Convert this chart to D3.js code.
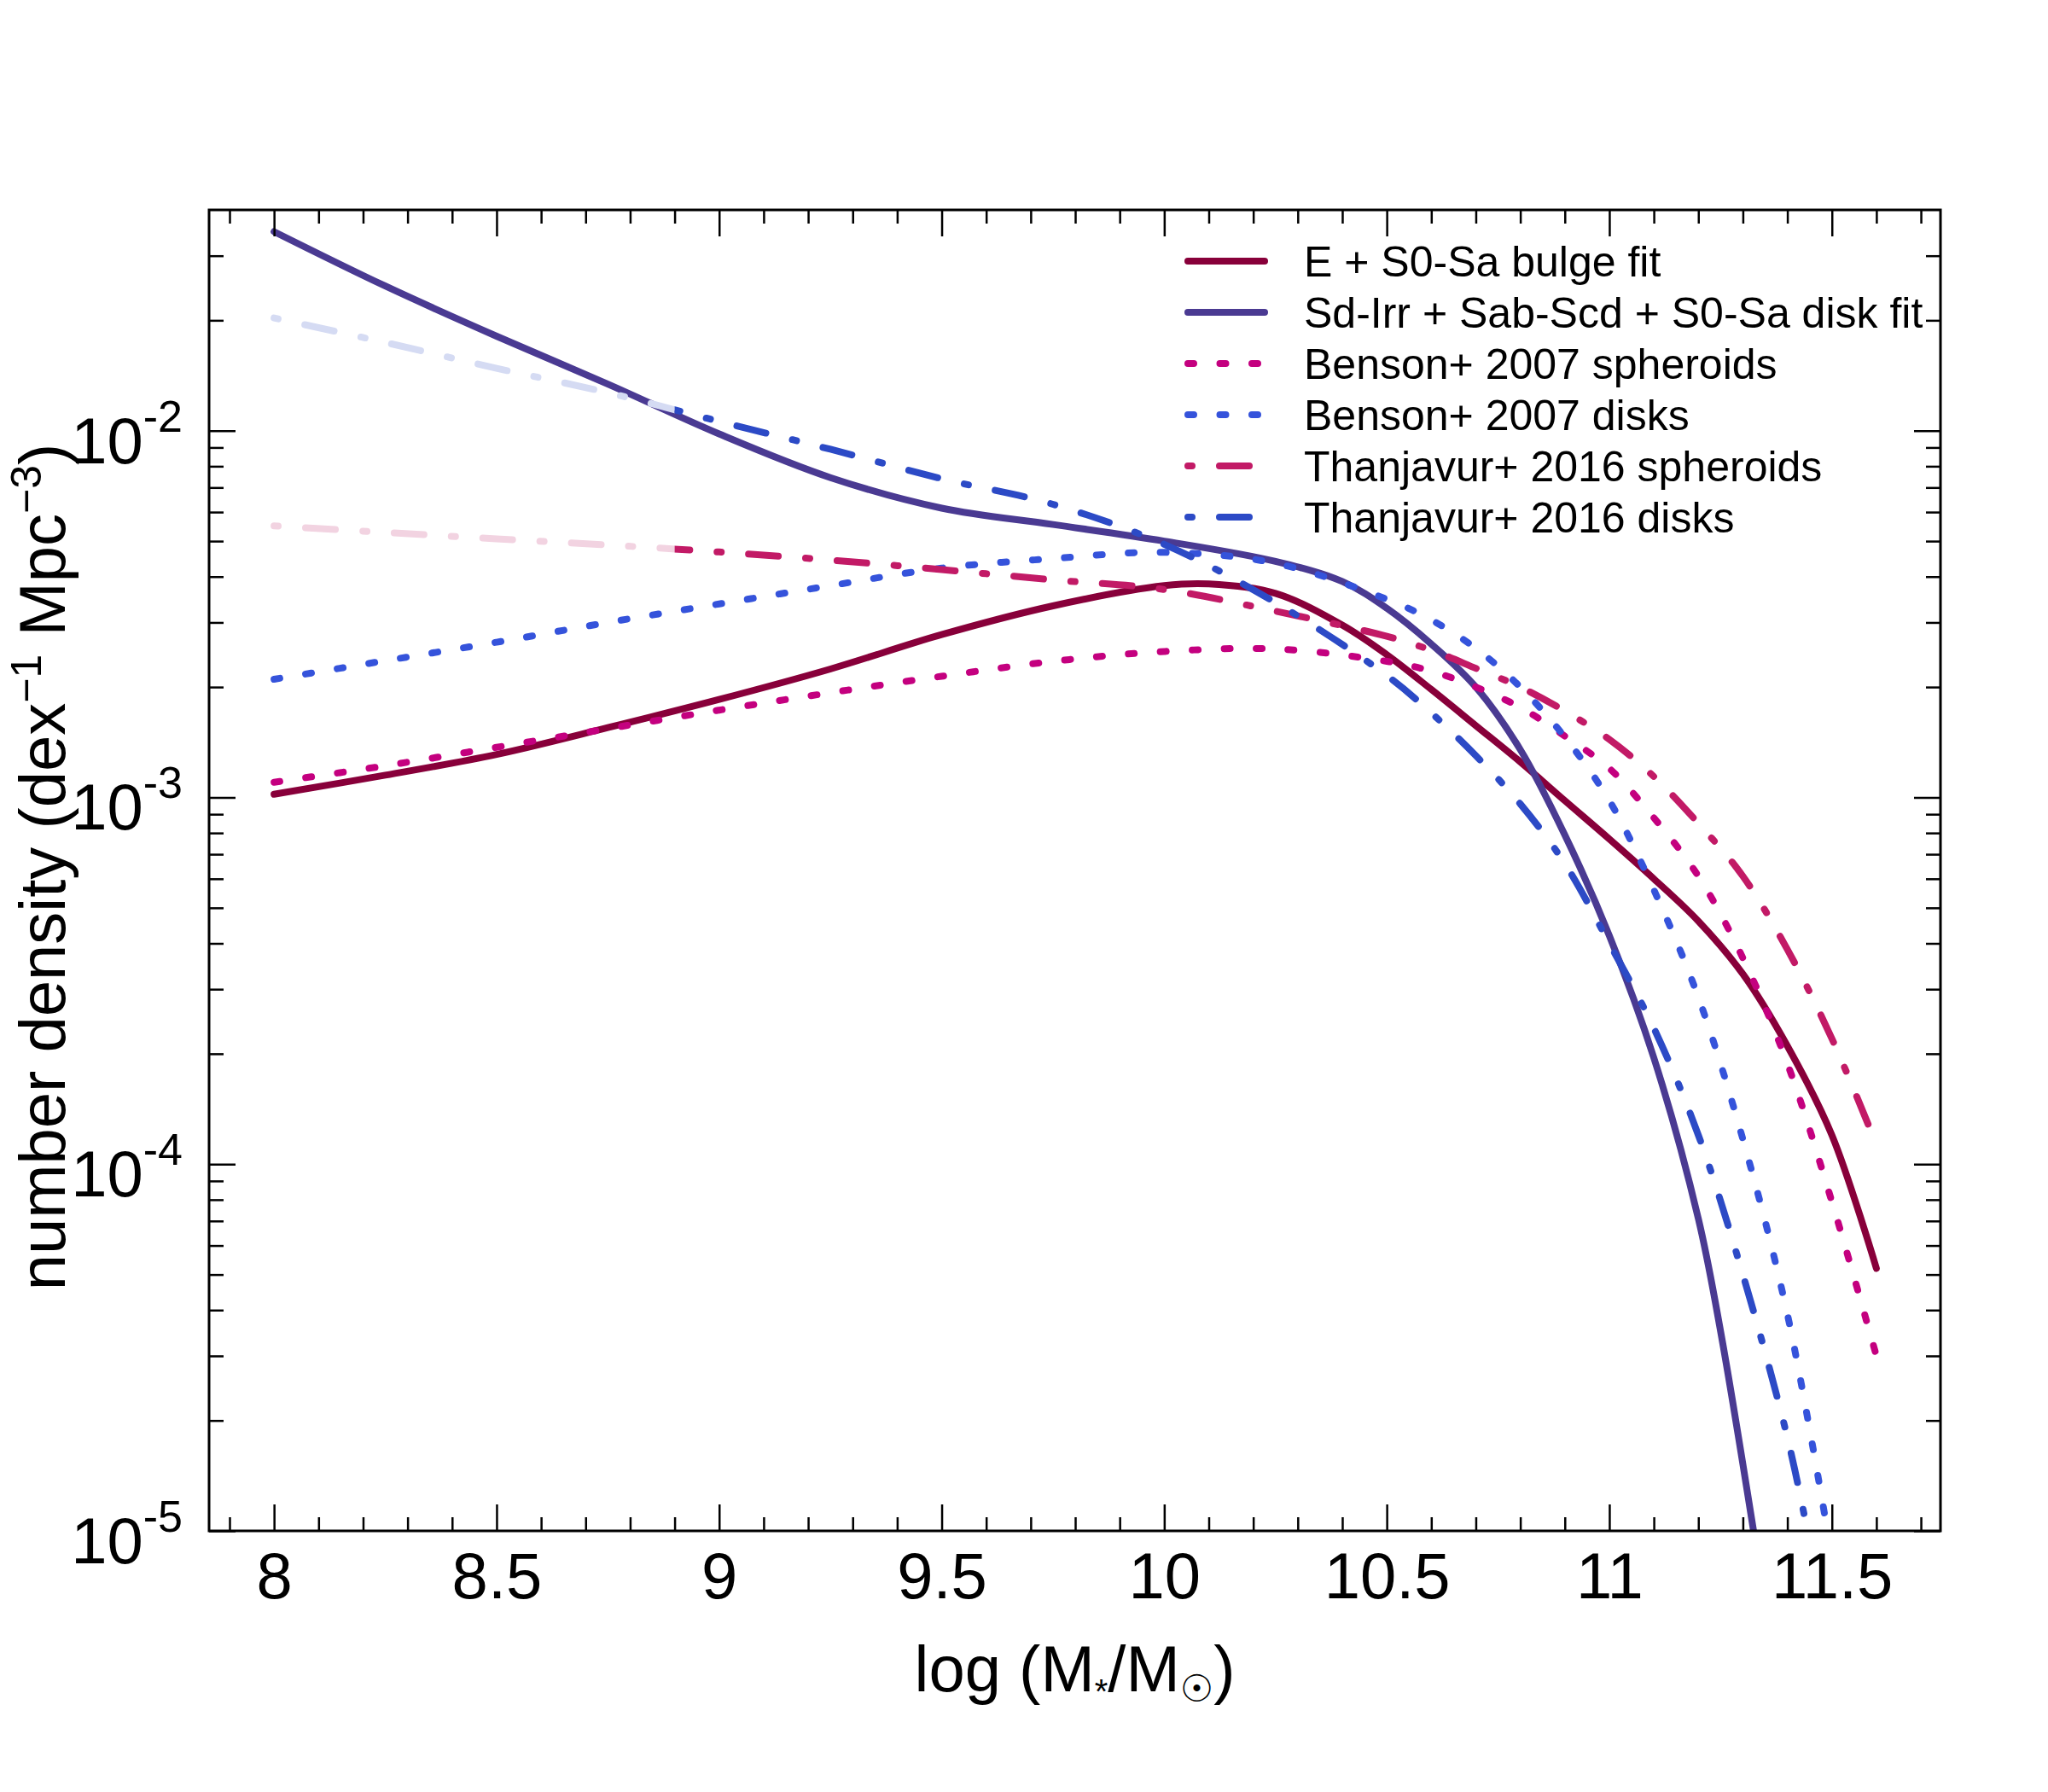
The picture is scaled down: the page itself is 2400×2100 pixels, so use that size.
<!DOCTYPE html>
<html>
<head>
<meta charset="utf-8">
<script src="https://cdn.jsdelivr.net/npm/d3@7"></script>
<style>
  body { margin: 0; background: #fff; }
  text { font-family: "Liberation Sans", Arial, Helvetica, sans-serif; fill: #000; }
</style>
</head>
<body>
<div id="chart"></div>
<script>
// ---- data: [log M*, number density] ----
const bulgeFit = [
  [8.0, 1.02e-3], [8.25, 1.15e-3], [8.5, 1.31e-3], [8.75, 1.55e-3], [9.0, 1.85e-3],
  [9.25, 2.24e-3], [9.5, 2.78e-3], [9.75, 3.33e-3], [10.0, 3.78e-3], [10.1, 3.82e-3],
  [10.25, 3.6e-3], [10.4, 2.95e-3], [10.5, 2.45e-3], [10.6, 1.97e-3], [10.7, 1.57e-3],
  [10.8, 1.25e-3], [10.9, 9.8e-4], [11.0, 7.7e-4], [11.1, 6.0e-4], [11.2, 4.6e-4],
  [11.3, 3.3e-4], [11.4, 2.1e-4], [11.5, 1.2e-4], [11.6, 5.2e-5]
];
const diskFit = [
  [8.0, 0.0349], [8.25, 0.0248], [8.5, 0.0181], [8.75, 0.0134], [9.0, 9.8e-3],
  [9.25, 7.45e-3], [9.5, 6.15e-3], [9.75, 5.55e-3], [10.0, 5.0e-3], [10.25, 4.4e-3],
  [10.4, 3.88e-3], [10.5, 3.28e-3], [10.6, 2.62e-3], [10.7, 2.0e-3], [10.8, 1.35e-3],
  [10.9, 7.9e-4], [11.0, 4.2e-4], [11.1, 1.95e-4], [11.2, 7.1e-5], [11.25, 3.5e-5],
  [11.324, 1.0e-5]
];
const bensonSpheroids = [
  [8.0, 1.10e-3], [8.25, 1.22e-3], [8.5, 1.37e-3], [8.75, 1.54e-3], [9.0, 1.73e-3],
  [9.25, 1.93e-3], [9.5, 2.14e-3], [9.75, 2.35e-3], [10.0, 2.5e-3], [10.25, 2.54e-3],
  [10.5, 2.35e-3], [10.6, 2.21e-3], [10.7, 2.0e-3], [10.8, 1.76e-3], [10.9, 1.47e-3],
  [11.0, 1.2e-3], [11.1, 8.8e-4], [11.2, 6.1e-4], [11.3, 3.65e-4], [11.4, 1.88e-4],
  [11.5, 7.9e-5], [11.6, 3.0e-5]
];
const bensonDisks = [
  [8.0, 2.10e-3], [8.25, 2.36e-3], [8.5, 2.65e-3], [8.75, 3.0e-3], [9.0, 3.37e-3],
  [9.25, 3.78e-3], [9.5, 4.22e-3], [9.75, 4.48e-3], [10.0, 4.66e-3], [10.25, 4.35e-3],
  [10.5, 3.47e-3], [10.6, 3.05e-3], [10.7, 2.55e-3], [10.8, 2.0e-3], [10.9, 1.46e-3],
  [11.0, 9.8e-4], [11.1, 5.6e-4], [11.2, 2.85e-4], [11.3, 1.17e-4], [11.4, 3.9e-5],
  [11.49, 1.0e-5]
];
const thanjavurSpheroids = [
  [8.0, 5.5e-3], [8.25, 5.28e-3], [8.5, 5.07e-3], [8.75, 4.88e-3], [9.0, 4.67e-3],
  [9.25, 4.44e-3], [9.5, 4.18e-3], [9.75, 3.92e-3], [10.0, 3.69e-3], [10.25, 3.22e-3],
  [10.5, 2.75e-3], [10.6, 2.52e-3], [10.7, 2.25e-3], [10.8, 2.0e-3], [10.9, 1.72e-3],
  [11.0, 1.44e-3], [11.1, 1.14e-3], [11.2, 8.5e-4], [11.3, 6.1e-4], [11.4, 3.85e-4],
  [11.5, 2.2e-4], [11.6, 1.13e-4]
];
const thanjavurDisks = [
  [8.0, 0.0203], [8.25, 0.0174], [8.5, 0.0148], [8.75, 0.0127], [9.0, 0.0106],
  [9.25, 8.9e-3], [9.5, 7.4e-3], [9.75, 6.3e-3], [10.0, 4.9e-3], [10.25, 3.4e-3],
  [10.5, 2.15e-3], [10.6, 1.7e-3], [10.7, 1.3e-3], [10.8, 9.6e-4], [10.9, 6.6e-4],
  [11.0, 4.0e-4], [11.1, 2.35e-4], [11.2, 1.2e-4], [11.3, 5.0e-5], [11.4, 1.8e-5],
  [11.445, 1.0e-5]
];
// Thanjavur fits are shown faint below this mass
const thanjavurLimit = 8.9;

const xMajorTicks = [8, 8.5, 9, 9.5, 10, 10.5, 11, 11.5];
const yMajorTicks = [1e-5, 1e-4, 1e-3, 1e-2];
const yTickExponents = ["-5", "-4", "-3", "-2"];
const legendNames = [
  "E + S0-Sa bulge fit",
  "Sd-Irr + Sab-Scd + S0-Sa disk fit",
  "Benson+ 2007 spheroids",
  "Benson+ 2007 disks",
  "Thanjavur+ 2016 spheroids",
  "Thanjavur+ 2016 disks"
];

// ---- layout ----
const width = 2400, height = 2100;
const plot = {left: 245, right: 2274, top: 246, bottom: 1794};

const svg = d3.select("#chart")
  .append("svg")
  .attr("width", width)
  .attr("height", height)
  .style("background", "#fff");

const x = d3.scaleLinear()
  .domain([7.854, 11.744])
  .range([plot.left, plot.right]);

const y = d3.scaleLog()
  .domain([1e-5, 0.04])
  .range([plot.bottom, plot.top]);

// minor tick positions
const xMinorTicks = d3.range(79, 118).map(d => d / 10)
  .filter(d => !xMajorTicks.some(m => Math.abs(m - d) < 1e-6));
const yMinorTicks = [];
[-5, -4, -3, -2].forEach(e => {
  for (let k = 2; k <= 9; k++) {
    const v = k * Math.pow(10, e);
    if (v < 0.0399) yMinorTicks.push(v);
  }
});

// ---- series styles ----
const dotted = "7 30.5";
const dashDot = "5 32 35 32";
const series = [
  {name: legendNames[0], data: bulgeFit, color: "#88003A", dash: null},
  {name: legendNames[1], data: diskFit, color: "#4A3A92", dash: null},
  {name: legendNames[2], data: bensonSpheroids, color: "#C4007F", dash: dotted},
  {name: legendNames[3], data: bensonDisks, color: "#3553DB", dash: dotted},
  {name: legendNames[4], data: thanjavurSpheroids, color: "#C21A66", dash: dashDot,
   faint: "#F2D3E1"},
  {name: legendNames[5], data: thanjavurDisks, color: "#2C4AC6", dash: dashDot,
   faint: "#D5DBF3"}
];

const defs = svg.append("defs");
defs.append("clipPath").attr("id", "clip-plot")
  .append("rect")
  .attr("x", plot.left).attr("y", plot.top)
  .attr("width", plot.right - plot.left).attr("height", plot.bottom - plot.top);
defs.append("clipPath").attr("id", "clip-faint")
  .append("rect")
  .attr("x", plot.left).attr("y", plot.top)
  .attr("width", x(thanjavurLimit) - plot.left).attr("height", plot.bottom - plot.top);
defs.append("clipPath").attr("id", "clip-main")
  .append("rect")
  .attr("x", x(thanjavurLimit)).attr("y", plot.top)
  .attr("width", plot.right - x(thanjavurLimit)).attr("height", plot.bottom - plot.top);

const line = d3.line()
  .x(d => x(d[0]))
  .y(d => y(d[1]))
  .curve(d3.curveCatmullRom.alpha(0.5));

const lineWidth = 8;
const curves = svg.append("g").attr("clip-path", "url(#clip-plot)");

function drawCurve(s, color, clip) {
  const p = curves.append("path")
    .attr("d", line(s.data))
    .attr("fill", "none")
    .attr("stroke", color)
    .attr("stroke-width", lineWidth)
    .attr("stroke-linecap", "round")
    .attr("stroke-linejoin", "round")
    .attr("stroke-dasharray", s.dash);
  if (clip) p.attr("clip-path", `url(#${clip})`);
}

series.forEach(s => {
  if (s.faint) {
    drawCurve(s, s.faint, "clip-faint");
    drawCurve(s, s.color, "clip-main");
  } else {
    drawCurve(s, s.color, null);
  }
});

// ---- axes (ticks on all four sides, pointing inward) ----
function styleAxis(g) {
  g.select(".domain").remove();
  g.selectAll(".tick line").attr("stroke", "#000").attr("stroke-width", 2.5);
}

svg.append("g")
  .attr("transform", `translate(0,${plot.bottom})`)
  .call(d3.axisBottom(x).tickValues(xMajorTicks).tickSize(-31).tickPadding(25)
    .tickFormat(d => String(d)))
  .call(styleAxis)
  .call(g => g.selectAll(".tick text")
    .attr("font-size", 76)
    .attr("font-family", "'Liberation Sans', Arial, sans-serif"));

svg.append("g")
  .attr("transform", `translate(0,${plot.bottom})`)
  .call(d3.axisBottom(x).tickValues(xMinorTicks).tickSize(-16).tickFormat(""))
  .call(styleAxis);

svg.append("g")
  .attr("transform", `translate(0,${plot.top})`)
  .call(d3.axisTop(x).tickValues(xMajorTicks).tickSize(-31).tickFormat(""))
  .call(styleAxis);

svg.append("g")
  .attr("transform", `translate(0,${plot.top})`)
  .call(d3.axisTop(x).tickValues(xMinorTicks).tickSize(-16).tickFormat(""))
  .call(styleAxis);

svg.append("g")
  .attr("transform", `translate(${plot.left},0)`)
  .call(d3.axisLeft(y).tickValues(yMajorTicks).tickSize(-31).tickFormat(""))
  .call(styleAxis);

svg.append("g")
  .attr("transform", `translate(${plot.left},0)`)
  .call(d3.axisLeft(y).tickValues(yMinorTicks).tickSize(-17).tickFormat(""))
  .call(styleAxis);

svg.append("g")
  .attr("transform", `translate(${plot.right},0)`)
  .call(d3.axisRight(y).tickValues(yMajorTicks).tickSize(-31).tickFormat(""))
  .call(styleAxis);

svg.append("g")
  .attr("transform", `translate(${plot.right},0)`)
  .call(d3.axisRight(y).tickValues(yMinorTicks).tickSize(-17).tickFormat(""))
  .call(styleAxis);

// y tick labels as 10^n
const yLabels = svg.append("g");
yMajorTicks.forEach((v, i) => {
  const t = yLabels.append("text")
    .attr("x", 214)
    .attr("y", y(v) + 38)
    .attr("text-anchor", "end")
    .attr("font-size", 76);
  t.append("tspan").text("10");
  t.append("tspan").attr("font-size", 52).attr("dy", -37).text(yTickExponents[i]);
});

// frame
svg.append("rect")
  .attr("x", plot.left).attr("y", plot.top)
  .attr("width", plot.right - plot.left).attr("height", plot.bottom - plot.top)
  .attr("fill", "none")
  .attr("stroke", "#000")
  .attr("stroke-width", 3);

// ---- axis titles ----
const xTitle = svg.append("text")
  .attr("x", (plot.left + plot.right) / 2)
  .attr("y", 1982)
  .attr("text-anchor", "middle")
  .attr("font-size", 76);
xTitle.append("tspan").text("log (M");
xTitle.append("tspan").attr("font-size", 40).attr("dy", 14).text("*");
xTitle.append("tspan").attr("dy", -14).text("/M");
xTitle.append("tspan").attr("font-size", 44).attr("dy", 12)
  .attr("font-family", "'DejaVu Sans', sans-serif").text("\u2609");
xTitle.append("tspan").attr("dy", -12).text(")");

const yTitle = svg.append("text")
  .attr("transform", `translate(76,${(plot.top + plot.bottom) / 2 - 4}) rotate(-90)`)
  .attr("text-anchor", "middle")
  .attr("font-size", 76);
yTitle.append("tspan").text("number density (dex");
yTitle.append("tspan").attr("font-size", 50).attr("dy", -28).text("\u22121");
yTitle.append("tspan").attr("dy", 28).text(" Mpc");
yTitle.append("tspan").attr("font-size", 50).attr("dy", -28).text("\u22123");
yTitle.append("tspan").attr("dy", 28).text(")");

// ---- legend ----
const legend = svg.append("g");
series.forEach((s, i) => {
  const rowY = 306 + i * 60;
  legend.append("line")
    .attr("x1", 1392).attr("x2", 1482)
    .attr("y1", rowY).attr("y2", rowY)
    .attr("stroke", s.color)
    .attr("stroke-width", lineWidth)
    .attr("stroke-linecap", "round")
    .attr("stroke-dasharray", s.dash);
  legend.append("text")
    .attr("x", 1528)
    .attr("y", rowY + 18)
    .attr("font-size", 50)
    .text(s.name);
});
</script>
</body>
</html>
